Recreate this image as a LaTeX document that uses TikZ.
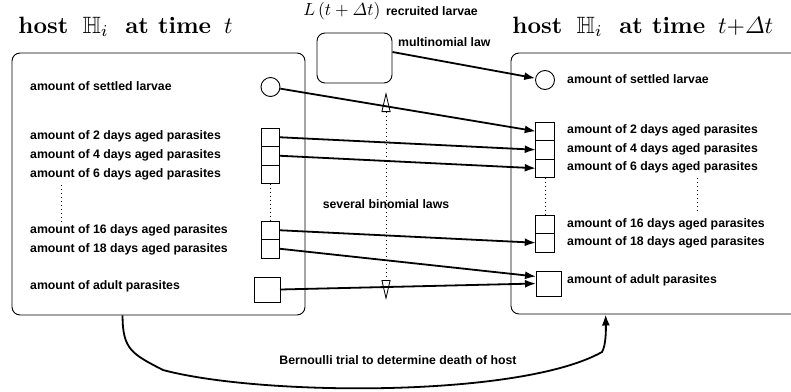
\documentclass[tikz,border=0pt]{standalone}
\usepackage{amsmath,amssymb}
\usepackage{fontspec}
\newfontfamily\lblfont{Liberation Sans}
\usepackage{tikz}
\usetikzlibrary{arrows.meta,positioning}

\tikzset{
  hostbox/.style={draw,rounded corners=8pt,line width=0.9pt,inner sep=0pt},
  cell/.style={draw,line width=0.9pt,minimum size=18.5pt,inner sep=0pt,outer sep=0pt},
  blob/.style={draw,circle,line width=0.9pt,minimum size=19pt,inner sep=0pt},
  lbl/.style={font=\lblfont\bfseries\fontsize{12.3}{14}\selectfont,inner sep=0pt,anchor=base west},
  title/.style={font=\bfseries,scale=2.36,inner sep=0pt,anchor=base west},
  flow/.style={line width=1.8pt,-{Latex[length=11pt,width=8pt]}},
  dots/.style={dash pattern=on 1pt off 3pt,line width=0.8pt},
  binarrow/.style={{Triangle[line width=0.8pt,length=20pt,width=9pt,color=black,fill=white]}-{Triangle[line width=0.8pt,length=20pt,width=9pt,color=black,fill=white]}}
}

\begin{document}
\begin{tikzpicture}[x=1pt,y=-1pt]
\useasboundingbox (0,0) rectangle (791,391);

% the two hosts
\node[hostbox,minimum width=293pt,minimum height=262pt] (lhost) at (158.5,184) {};
\node[hostbox,minimum width=300pt,minimum height=261pt] (rhost) at (661,183.5) {};
\node[title] (ltitle) at (18,33) {host\hspace{.6em}$\mathbb{H}_i$\hspace{.7em}at time\hspace{.55em}$t$};
\node[title] (rtitle) at (512,33) {host\hspace{.6em}$\mathbb{H}_i$\hspace{.7em}at time\hspace{.55em}$t{+}\varDelta t$};

% recruitment
\node[hostbox,minimum width=75pt,minimum height=50pt] (multi) at (354.5,58) {};
\node[inner sep=0pt,anchor=base west,scale=1.75] (lrec) at (303,15) {$L\,(t+\varDelta t)$};
\node[lbl] (rec) at (386,15) {recruited larvae};
\node[lbl] (mlaw) at (398,46.7) {multinomial law};

% left host
\node[blob] (lsettled) at (270.5,87) {};
\node[cell] (l2) at (270.5,137.25) {};
\node[cell,below=0pt of l2] (l4) {};
\node[cell,below=0pt of l4] (l6) {};
\node[cell] (l16) at (270.5,230.25) {};
\node[cell,below=0pt of l16] (l18) {};
\node[cell,minimum width=26pt,minimum height=25pt] (ladult) at (267,289.5) {};

\node[lbl] (lt0) at (30,90) {amount of settled larvae};
\node[lbl] (lt2) at (30,139) {amount of 2 days aged parasites};
\node[lbl] (lt4) at (30,158) {amount of 4 days aged parasites};
\node[lbl] (lt6) at (30,177) {amount of 6 days aged parasites};
\node[lbl] (lt16) at (30,233) {amount of 16 days aged parasites};
\node[lbl] (lt18) at (30,252) {amount of 18 days aged parasites};
\node[lbl] (ltad) at (30,289) {amount of adult parasites};

% right host
\node[blob] (rsettled) at (545,80) {};
\node[cell] (r2) at (545,131.25) {};
\node[cell,below=0pt of r2] (r4) {};
\node[cell,below=0pt of r4] (r6) {};
\node[cell] (r16) at (545,224.25) {};
\node[cell,below=0pt of r16] (r18) {};
\node[cell,minimum width=25pt,minimum height=25pt] (radult) at (548.5,283.5) {};

\node[lbl] (rt0) at (567,83) {amount of settled larvae};
\node[lbl] (rt2) at (567,133) {amount of 2 days aged parasites};
\node[lbl] (rt4) at (567,152) {amount of 4 days aged parasites};
\node[lbl] (rt6) at (567,170.5) {amount of 6 days aged parasites};
\node[lbl] (rt16) at (567,227) {amount of 16 days aged parasites};
\node[lbl] (rt18) at (567,245.5) {amount of 18 days aged parasites};
\node[lbl] (rtad) at (567,283) {amount of adult parasites};

% vertical dots
\draw[dots] (l6.south) -- (l16.north);
\draw[dots] (61,185) -- (61,222);
\draw[dots] (r6.south) -- (r16.north);
\draw[dots] (697,178) -- (697,213);

% binomial laws
\coordinate (btop) at (386,92);
\coordinate (bbot) at (386,300);
\draw[dots,binarrow] (btop) -- (bbot);
\node[lbl,anchor=base] (binom) at (386,208) {several binomial laws};

% transitions
\draw[flow] ([yshift=6pt]multi.east) -- (rsettled);
\draw[flow] (lsettled) -- (r2.west);
\draw[flow] (l2.east) -- (r4.west);
\draw[flow] (l4.east) -- (r6.west);
\draw[flow] (l16.east) -- (r18.west);
\draw[flow] (l18.east) -- ([yshift=7pt]radult.west);
\draw[flow] (ladult.east) -- (radult.west);

% death of host
\draw[flow] ([xshift=111pt]lhost.south west) .. controls +(0,34) and (132,354) .. (163,370)
  .. controls (260,396) and (520,398) .. (602,352)
  .. controls (606,345) and (606,330) .. ([xshift=95pt]rhost.south west);
\node[lbl,anchor=base] (bern) at (398,364) {Bernoulli trial to determine death of host};
\end{tikzpicture}
\end{document}
